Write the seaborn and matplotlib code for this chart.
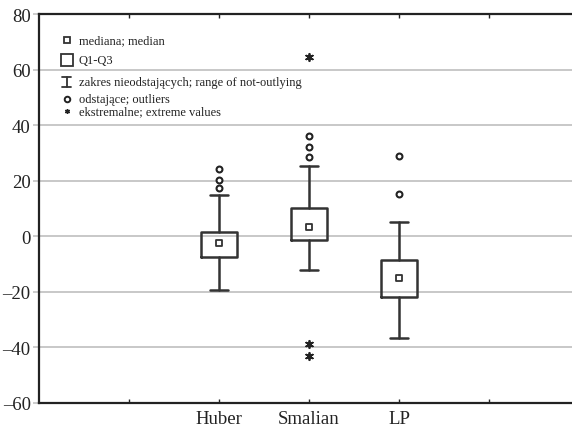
import matplotlib
matplotlib.use("Agg")
import matplotlib.pyplot as plt
import seaborn as sns
import pandas as pd

# ---- data ----
categories = ["Huber", "Smalian", "LP"]
positions = [1, 2, 3]
q1 = [-7.4, -1.2, -21.7]
q3 = [1.4, 10.1, -8.5]
medians = [-2.3, 3.2, -14.9]
whisker_lo = [-19.2, -12.2, -36.5]
whisker_hi = [14.7, 25.4, 5.0]
outliers_huber = [24.1, 20.2, 17.4]
outliers_smalian = [36.2, 32.0, 28.4]
outliers_lp = [28.9, 15.2]
extremes_smalian = [64.6, -38.7, -43.1]
y_ticks = [-60, -40, -20, 0, 20, 40, 60, 80]
x_tick_labels = ["", "Huber", "Smalian", "LP", ""]
legend_labels = ["mediana; median", "Q1-Q3",
                 "zakres nieodstających; range of not-outlying",
                 "odstające; outliers", "ekstremalne; extreme values"]

sns.set_theme(style="white")
plt.rcParams["font.family"] = ["Liberation Serif", "DejaVu Serif"]

W, H = 572, 427
fig = plt.figure(figsize=(W / 100, H / 100), dpi=100)
ax = fig.add_axes([39 / W, 23 / H, 540 / W, 389 / H])

dark = "#333333"

stats = []
for i, c in enumerate(categories):
    stats.append(dict(label=c, q1=q1[i], q3=q3[i], med=medians[i],
                      whislo=whisker_lo[i], whishi=whisker_hi[i], fliers=[]))
ax.bxp(stats, positions=positions, widths=0.41, capwidths=0.21,
       showfliers=False, patch_artist=False,
       boxprops=dict(color=dark, linewidth=1.8),
       whiskerprops=dict(color=dark, linewidth=1.8),
       capprops=dict(color=dark, linewidth=1.8),
       medianprops=dict(linewidth=0), manage_ticks=False, zorder=3)

med_df = pd.DataFrame({"x": positions, "y": medians})
sns.scatterplot(data=med_df, x="x", y="y", marker="s", s=18, color="white",
                edgecolor=dark, linewidth=1.3, ax=ax, zorder=4)

out_x, out_y = [], []
for p, vals in zip(positions, [outliers_huber, outliers_smalian, outliers_lp]):
    out_x += [p] * len(vals)
    out_y += vals
out_df = pd.DataFrame({"x": out_x, "y": out_y})
sns.scatterplot(data=out_df, x="x", y="y", marker="o", s=18, color="white",
                edgecolor="#222222", linewidth=1.5, ax=ax, zorder=4)

ext_df = pd.DataFrame({"x": [2] * len(extremes_smalian), "y": extremes_smalian})
sns.scatterplot(data=ext_df, x="x", y="y", marker=(6, 2, 0), s=28,
                color="#222222", linewidth=1.3, ax=ax, zorder=4)

ax.set_xlim(-1, 5)
ax.set_ylim(-60, 80)
ax.set_xticks([0, 1, 2, 3, 4])
ax.set_xticklabels(x_tick_labels)
ax.set_yticks(y_ticks)
ax.set_yticklabels([f"{v}".replace("-", "\u2013") for v in y_ticks])
ax.set_xlabel("")
ax.set_ylabel("")

for v in y_ticks[1:-1]:
    ax.axhline(v, color="#c4c4c4", linewidth=1.3, zorder=1)

for s in ["top", "bottom", "left"]:
    ax.spines[s].set_color("#222222")
    ax.spines[s].set_linewidth(1.6)
ax.spines["right"].set_visible(False)

ax.tick_params(axis="x", direction="in", length=3, width=1, colors="#222222",
               top=True, bottom=True, labelsize=13.5, pad=5)
ax.tick_params(axis="y", direction="out", length=4, width=1.2, color="#c4c4c4",
               labelcolor="#222222", left=True, labelsize=13.5, pad=2)

# ---- legend (top-left, no frame) ----
tr = ax.transAxes
lx, tx = 0.051, 0.074
ly = [0.933, 0.882, 0.825, 0.781, 0.751]
ax.plot([lx], [ly[0]], transform=tr, marker="s", ms=4.2, mfc="white",
        mec=dark, mew=1.3, ls="none")
ax.plot([lx], [ly[1]], transform=tr, marker="s", ms=8.5, mfc="white",
        mec=dark, mew=1.3, ls="none")
ax.plot([lx, lx], [ly[2] - 0.012, ly[2] + 0.012], transform=tr, color=dark, lw=1.3)
ax.plot([lx - 0.008, lx + 0.008], [ly[2] - 0.012] * 2, transform=tr, color=dark, lw=1.3)
ax.plot([lx - 0.008, lx + 0.008], [ly[2] + 0.012] * 2, transform=tr, color=dark, lw=1.3)
ax.plot([lx], [ly[3]], transform=tr, marker="o", ms=4, mfc="white",
        mec="#222222", mew=1.4, ls="none")
ax.plot([lx], [ly[4]], transform=tr, marker=(6, 2, 0), ms=3.5,
        color="#222222", mew=1.0, ls="none")
for y, t in zip(ly, legend_labels):
    ax.text(tx, y, t, transform=tr, fontsize=9.0, va="center", ha="left",
            color="#222222")

fig.savefig("out.png", dpi=100)
